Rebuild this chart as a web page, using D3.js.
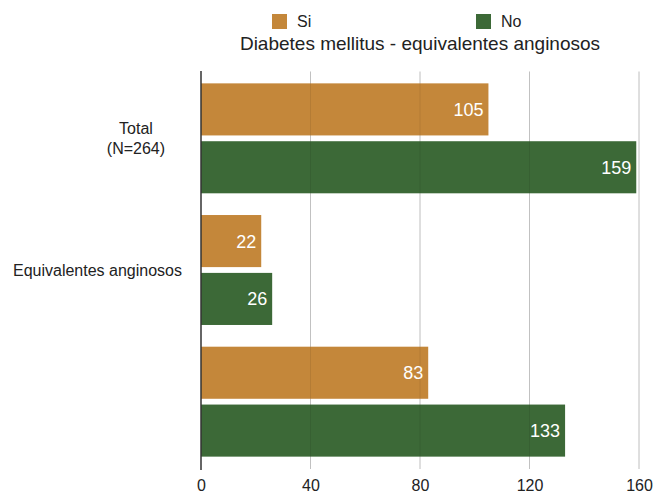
<!DOCTYPE html>
<html>
<head>
<meta charset="utf-8">
<script src="https://cdn.jsdelivr.net/npm/d3@7"></script>
<style>
  html, body { margin: 0; padding: 0; background: #fff; }
  svg text { font-family: "Liberation Sans", Arial, Helvetica, sans-serif; }
</style>
</head>
<body>
<svg id="chart" width="653" height="497"></svg>
<script>
// Categories (one row label per group; "\n" splits lines)
const categories = ["Total\n(N=264)", "Equivalentes anginosos", ""];
const seriesNames = ["Si", "No"];
const siValues = [105, 22, 83];
const noValues = [159, 26, 133];
const xTicks = [0, 40, 80, 120, 160];
const colors = { Si: "#C4873A", No: "#3C6937" };
const title = "Diabetes mellitus - equivalentes anginosos";

const rows = categories.map((c, i) => ({
  key: "g" + i,
  label: c,
  values: [
    { series: "Si", value: siValues[i] },
    { series: "No", value: noValues[i] }
  ]
}));

const svg = d3.select("#chart");

const x = d3.scaleLinear().domain([0, 160]).range([201, 639]);
const y0 = d3.scaleBand()
  .domain(rows.map(d => d.key))
  .range([72.5, 467.5])
  .paddingInner(0.165)
  .paddingOuter(0.0825);
const y1 = d3.scaleBand()
  .domain(seriesNames)
  .range([0, y0.bandwidth()])
  .paddingInner(0.1)
  .paddingOuter(0);

const gridTicks = xTicks.filter(t => t > 0);

// Vertical gridlines behind the bars
svg.append("g")
  .selectAll("line")
  .data(gridTicks)
  .join("line")
  .attr("x1", d => x(d)).attr("x2", d => x(d))
  .attr("y1", 71.5).attr("y2", 469)
  .attr("stroke", "#d2d2d2")
  .attr("stroke-width", 1);

// Bars
const groups = svg.append("g")
  .selectAll("g")
  .data(rows)
  .join("g")
  .attr("transform", d => `translate(0,${y0(d.key)})`);

groups.selectAll("rect")
  .data(d => d.values)
  .join("rect")
  .attr("x", x(0))
  .attr("y", d => y1(d.series))
  .attr("width", d => x(d.value) - x(0))
  .attr("height", y1.bandwidth())
  .attr("fill", d => colors[d.series]);

// Faint gridline trace showing through the bars
svg.append("g")
  .selectAll("line")
  .data(gridTicks)
  .join("line")
  .attr("x1", d => x(d)).attr("x2", d => x(d))
  .attr("y1", 71.5).attr("y2", 469)
  .attr("stroke", "rgba(0,0,0,0.08)")
  .attr("stroke-width", 1);

groups.selectAll("text.val")
  .data(d => d.values)
  .join("text")
  .attr("class", "val")
  .attr("x", d => x(d.value) - 5)
  .attr("y", d => y1(d.series) + y1.bandwidth() / 2)
  .attr("dy", "0.36em")
  .attr("text-anchor", "end")
  .attr("fill", "#fff")
  .attr("font-size", 18)
  .text(d => d.value);

// Category labels: each block right-aligned, its lines centered
const labelRight = 182;
rows.forEach(r => {
  const lines = r.label.split("\n").filter(s => s.length);
  if (!lines.length) return;
  const t = svg.append("text")
    .attr("font-size", 16)
    .attr("fill", "#222");
  const cy = y0(r.key) + y0.bandwidth() / 2;
  const lh = 20;
  lines.forEach((ln, i) => {
    t.append("tspan")
      .attr("y", cy + (i - (lines.length - 1) / 2) * lh)
      .attr("dy", "0.36em")
      .text(ln);
  });
  const w = t.node().getBBox().width;
  t.attr("text-anchor", "middle");
  t.selectAll("tspan").attr("x", labelRight - w / 2);
});

// Y axis line
svg.append("line")
  .attr("x1", x(0)).attr("x2", x(0))
  .attr("y1", 71).attr("y2", 470)
  .attr("stroke", "#333")
  .attr("stroke-width", 1.5);

// X axis tick labels
const xAxis = d3.axisBottom(x).tickValues(xTicks).tickSize(0).tickPadding(0);
const xg = svg.append("g")
  .attr("transform", "translate(0,480)")
  .call(xAxis);
xg.select(".domain").remove();
xg.selectAll("text")
  .attr("font-size", 16)
  .attr("fill", "#222")
  .attr("font-family", "\"Liberation Sans\", Arial, Helvetica, sans-serif");

// Legend
const legendPos = { Si: 272, No: 476 };
const lg = svg.append("g")
  .selectAll("g")
  .data(seriesNames)
  .join("g")
  .attr("transform", d => `translate(${legendPos[d]},14)`);
lg.append("rect")
  .attr("width", 15).attr("height", 15)
  .attr("fill", d => colors[d]);
lg.append("text")
  .attr("x", 25).attr("y", 7.5)
  .attr("dy", "0.36em")
  .attr("font-size", 16)
  .attr("fill", "#222")
  .text(d => d);

// Title
svg.append("text")
  .attr("x", 420)
  .attr("y", 43)
  .attr("dy", "0.36em")
  .attr("text-anchor", "middle")
  .attr("font-size", 19)
  .attr("fill", "#222")
  .text(title);
</script>
</body>
</html>
